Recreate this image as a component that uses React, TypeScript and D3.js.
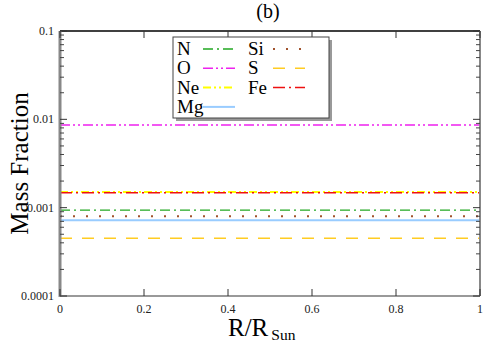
import React from "react";
import * as d3 from "d3";

const radius = [0, 0.2, 0.4, 0.6, 0.8, 1];
const nValues = [0.00094, 0.00094, 0.00094, 0.00094, 0.00094, 0.00094];
const oValues = [0.0086, 0.0086, 0.0086, 0.0086, 0.0086, 0.0086];
const neValues = [0.0015, 0.0015, 0.0015, 0.0015, 0.0015, 0.0015];
const mgValues = [0.00072, 0.00072, 0.00072, 0.00072, 0.00072, 0.00072];
const siValues = [0.0008, 0.0008, 0.0008, 0.0008, 0.0008, 0.0008];
const sValues = [0.00045, 0.00045, 0.00045, 0.00045, 0.00045, 0.00045];
const feValues = [0.00148, 0.00148, 0.00148, 0.00148, 0.00148, 0.00148];

const xTicks = [0, 0.2, 0.4, 0.6, 0.8, 1];
const xTickLabels = ["0", "0.2", "0.4", "0.6", "0.8", "1"];
const yTicks = [0.0001, 0.001, 0.01, 0.1];
const yTickLabels = ["0.0001", "0.001", "0.01", "0.1"];

const series = [
  { name: "N", values: nValues, color: "#22a822", dash: "10,4,2,4", width: 1.3 },
  { name: "O", values: oValues, color: "#ee22ee", dash: "10,3,2,3,2,3", width: 1.5 },
  { name: "Ne", values: neValues, color: "#ffff00", dash: "8,3,2,3,2,3", width: 2 },
  { name: "Mg", values: mgValues, color: "#99ccff", dash: "", width: 2 },
  { name: "Si", values: siValues, color: "#a0522d", dash: "2,11", width: 2 },
  { name: "S", values: sValues, color: "#ffcc22", dash: "12,10", width: 1.5 },
  { name: "Fe", values: feValues, color: "#ee1111", dash: "12,4,2,4", width: 1.5 },
];

const margin = { left: 60, right: 6, top: 31, bottom: 47 };
const W = 486;
const H = 343;
const font = "Liberation Serif, Times New Roman, DejaVu Serif, serif";

const App = () => {
  const x = d3.scaleLinear().domain([0, 1]).range([margin.left, W - margin.right]);
  const y = d3.scaleLog().domain([0.0001, 0.1]).range([H - margin.bottom, margin.top]);
  const line = d3
    .line<number>()
    .x((_, i) => x(radius[i]))
    .y((d) => y(d));

  const minor: number[] = [];
  for (let e = -4; e < -1; e++) {
    for (let m = 2; m <= 9; m++) minor.push(m * Math.pow(10, e));
  }

  const x0 = x(0);
  const x1 = x(1);
  const y0 = y(0.0001);
  const y1 = y(0.1);

  const legCols = [
    ["N", "O", "Ne", "Mg"],
    ["Si", "S", "Fe"],
  ];

  return (
    <svg
      width={W}
      height={H}
      style={{ position: "absolute", left: 0, top: 0, background: "#fff", fontFamily: font }}
    >
      <text x={268} y={18} textAnchor="middle" fontSize={20}>
        (b)
      </text>

      {series.map((s) => (
        <path
          key={s.name}
          d={line(s.values) || ""}
          fill="none"
          stroke={s.color}
          strokeWidth={s.width}
          strokeDasharray={s.dash || undefined}
        />
      ))}

      {/* frame */}
      <line x1={x0} x2={x1} y1={y1} y2={y1} stroke="#000" strokeWidth={1.5} />
      <line x1={x0} x2={x1} y1={y0} y2={y0} stroke="#777" strokeWidth={1.5} />
      <line x1={x1} x2={x1} y1={y1} y2={y0} stroke="#888" strokeWidth={2} />
      <line x1={x0} x2={x0} y1={y1} y2={y0 + 1} stroke="#888" strokeWidth={3} />

      {yTicks.map((t, i) => (
        <g key={"y" + t}>
          <line x1={x0} x2={x0 + 7} y1={y(t)} y2={y(t)} stroke="#333" />
          <line x1={x1 - 7} x2={x1} y1={y(t)} y2={y(t)} stroke="#333" />
          <text x={x0 - 6} y={y(t) + 4} textAnchor="end" fontSize={12} fill="#222">
            {yTickLabels[i]}
          </text>
        </g>
      ))}
      {minor.map((t) => (
        <g key={"m" + t}>
          <line x1={x0} x2={x0 + 4} y1={y(t)} y2={y(t)} stroke="#444" />
          <line x1={x1 - 4} x2={x1} y1={y(t)} y2={y(t)} stroke="#444" />
        </g>
      ))}

      {xTicks.map((t, i) => (
        <g key={"x" + t}>
          <line x1={x(t)} x2={x(t)} y1={y0} y2={y0 - 7} stroke="#333" />
          <line x1={x(t)} x2={x(t)} y1={y1} y2={y1 + 7} stroke="#333" />
          <text x={x(t)} y={y0 + 17} textAnchor="middle" fontSize={12} fill="#222">
            {xTickLabels[i]}
          </text>
        </g>
      ))}

      <text
        transform={`translate(28, ${(y0 + y1) / 2}) rotate(-90)`}
        textAnchor="middle"
        fontSize={25}
      >
        Mass Fraction
      </text>
      <text x={228} y={336} fontSize={25}>
        R/R
        <tspan fontSize={15.5} dy={4} dx={3}>
          Sun
        </tspan>
      </text>

      {/* legend */}
      <rect x={176} y={40} width={156} height={81} fill="#999" />
      <rect x={173} y={37} width={156} height={81} fill="#fff" stroke="#444" strokeWidth={1} />
      {legCols.map((col, ci) =>
        col.map((name, ri) => {
          const s = series.find((d) => d.name === name)!;
          const lx = ci === 0 ? 177 : 248;
          const sx = ci === 0 ? 203 : 273;
          const cy = 49 + ri * 19.3;
          return (
            <g key={name}>
              <text x={lx} y={cy + 6} fontSize={19}>
                {name}
              </text>
              <line
                x1={sx}
                x2={sx + 32}
                y1={cy}
                y2={cy}
                stroke={s.color}
                strokeWidth={s.width}
                strokeDasharray={s.dash || undefined}
              />
            </g>
          );
        })
      )}
    </svg>
  );
};

export default App;
